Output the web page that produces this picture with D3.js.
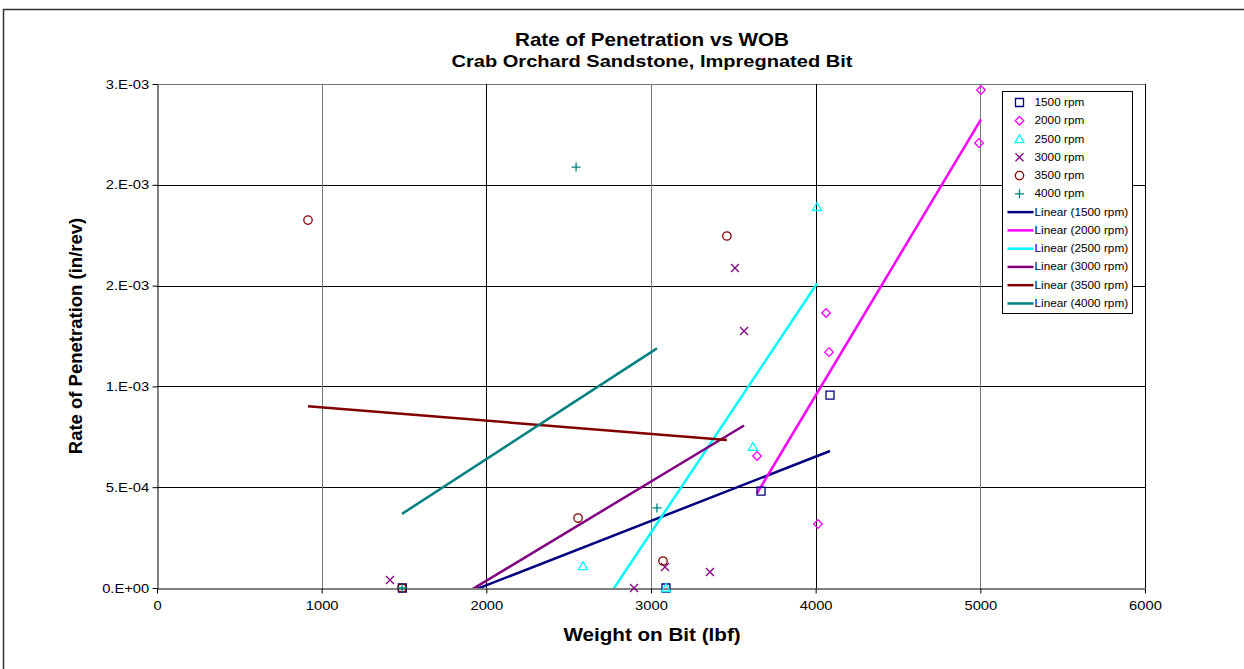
<!DOCTYPE html>
<html>
<head>
<meta charset="utf-8">
<script src="https://cdn.jsdelivr.net/npm/d3@7"></script>
<style>
  body { margin: 0; background: #fff; }
  svg { font-family: "Liberation Sans", Arial, sans-serif; }
</style>
</head>
<body>
<svg id="chart" width="1244" height="669"></svg>
<script>
// series (x = WOB lbf, y = in/rev)
const seriesNames = ["1500 rpm", "2000 rpm", "2500 rpm", "3000 rpm", "3500 rpm", "4000 rpm"];
const wob1500 = [1490, 3091, 3668, 4087];
const rop1500 = [0, 0, 0.000481, 0.000957];
const wob2000 = [5004, 4992, 4063, 4081, 3644, 4014];
const rop2000 = [0.00247, 0.002207, 0.001364, 0.00117, 0.000655, 0.000317];
const wob2500 = [2587, 3091, 3619, 4008];
const rop2500 = [0.000109, 0, 0.0007, 0.00189];
const wob3000 = [1415, 2897, 3085, 3358, 3510, 3565];
const rop3000 = [0.00004, 0, 0.000104, 0.000079, 0.001587, 0.001275];
const wob3500 = [917, 1488, 2557, 3073, 3461];
const rop3500 = [0.001825, 0, 0.000347, 0.000134, 0.001746];
const wob4000 = [2545, 3036, 1488];
const rop4000 = [0.002088, 0.000397, 0];

const xTicks = [0, 1000, 2000, 3000, 4000, 5000, 6000];
const yTicks = [0, 0.0005, 0.001, 0.0015, 0.002, 0.0025];
const yTickLabels = ["0.E+00", "5.E-04", "1.E-03", "2.E-03", "2.E-03", "3.E-03"];

const colors = ["#000080", "#ff00ff", "#00ffff", "#800080", "#800000", "#008080"];

const wobs = [wob1500, wob2000, wob2500, wob3000, wob3500, wob4000];
const rops = [rop1500, rop2000, rop2500, rop3000, rop3500, rop4000];
const series = seriesNames.map((name, i) => ({
  name, color: colors[i], shape: i,
  pts: wobs[i].map((x, j) => ({ x, y: rops[i][j] }))
}));

const svg = d3.select("#chart");
const plot = { left: 157, top: 84, right: 1145, bottom: 588 };
const SX = 1.18; // text in the picture is a bit wide

const x = d3.scaleLinear().domain([0, 6000]).range([plot.left, plot.right]);
const y = d3.scaleLinear().domain([0, 0.0025]).range([plot.bottom, plot.top]);

function label(px, py, str, size, bold, rot) {
  return svg.append("text")
    .attr("transform", `translate(${px},${py})` + (rot ? ` rotate(${rot})` : ` scale(${SX},1)`))
    .attr("text-anchor", "middle").attr("font-size", size)
    .attr("font-weight", bold ? "bold" : null).text(str);
}

// outer chart border (only top/left visible)
svg.append("path")
  .attr("d", "M3.5,669 L3.5,9.5 L1244,9.5")
  .attr("fill", "none").attr("stroke", "#333").attr("stroke-width", 1.5);

// titles
label(652, 46, "Rate of Penetration vs WOB", 17.5, true);
label(652, 67, "Crab Orchard Sandstone, Impregnated Bit", 17, true);

// grid
const grid = svg.append("g");
grid.selectAll(".hg").data(yTicks.slice(1)).enter().append("line")
  .attr("x1", plot.left).attr("x2", plot.right)
  .attr("y1", d => Math.round(y(d)) + 0.5).attr("y2", d => Math.round(y(d)) + 0.5)
  .attr("stroke", (d, i) => i === yTicks.length - 2 ? "#777" : "#000");
grid.selectAll(".vg").data(xTicks.slice(1)).enter().append("line")
  .attr("y1", plot.top).attr("y2", plot.bottom)
  .attr("x1", d => Math.round(x(d)) + 0.5).attr("x2", d => Math.round(x(d)) + 0.5)
  .attr("stroke", d => (d / 1000) % 2 === 1 ? "#777" : "#000");

// axes
const xAxis = svg.append("g").attr("transform", `translate(0,${plot.bottom + 0.5})`)
  .call(d3.axisBottom(x).tickValues(xTicks).tickSize(5).tickSizeOuter(0).tickFormat(d3.format("d")));
const yAxis = svg.append("g").attr("transform", `translate(${plot.left + 0.5},0)`)
  .call(d3.axisLeft(y).tickValues(yTicks).tickSize(5).tickSizeOuter(0).tickFormat((d, i) => yTickLabels[i]));
[xAxis, yAxis].forEach(a => {
  a.select(".domain").attr("stroke", "#000");
  a.selectAll(".tick line").attr("stroke", "#000");
  a.selectAll(".tick text").attr("font-size", 12.5).attr("fill", "#000")
    .attr("font-family", "Liberation Sans, Arial, sans-serif")
    .attr("transform", `scale(${SX},1)`);
});
xAxis.selectAll(".tick text").attr("y", 10).attr("dy", "0.9em");
yAxis.selectAll(".tick text").attr("x", -7);

label(652, 641, "Weight on Bit (lbf)", 17.5, true);
label(82, 336, "Rate of Penetration (in/rev)", 18.5, true, -90);

// clip for trend lines
svg.append("clipPath").attr("id", "plotclip").append("rect")
  .attr("x", plot.left).attr("y", plot.top)
  .attr("width", plot.right - plot.left).attr("height", plot.bottom - plot.top);

// least-squares trend line per series
function fit(pts) {
  const mx = d3.mean(pts, p => p.x), my = d3.mean(pts, p => p.y);
  const sxy = d3.sum(pts, p => (p.x - mx) * (p.y - my));
  const sxx = d3.sum(pts, p => (p.x - mx) * (p.x - mx));
  const b = sxy / sxx, a = my - b * mx;
  const [x0, x1] = d3.extent(pts, p => p.x);
  return [{ x: x0, y: a + b * x0 }, { x: x1, y: a + b * x1 }];
}

const line = d3.line().x(d => x(d.x)).y(d => y(d.y));
svg.append("g").attr("clip-path", "url(#plotclip)")
  .selectAll("path").data(series).enter().append("path")
  .attr("d", s => line(fit(s.pts)))
  .attr("fill", "none").attr("stroke", s => s.color).attr("stroke-width", 2.5);

// markers, drawn as Excel-like outline shapes
const shapePaths = [
  "M-4,-4H4V4H-4Z",                    // square
  "M0,-4.3L4.3,0L0,4.3L-4.3,0Z",       // diamond
  "M0,-4.3L4.5,3.5H-4.5Z",             // triangle
  "M-4,-4L4,4M-4,4L4,-4",              // x
  null,                                // circle
  "M-4.5,0H4.5M0,-4.5V4.5"             // plus
];
function marker(g, shape, color) {
  if (shape === 4) {
    g.append("circle").attr("r", 4.2)
      .attr("fill", "none").attr("stroke", color).attr("stroke-width", 1.3);
  } else {
    g.append("path").attr("d", shapePaths[shape])
      .attr("fill", "none").attr("stroke", color).attr("stroke-width", 1.3);
  }
}

series.forEach(s => {
  s.pts.forEach(p => {
    const g = svg.append("g").attr("transform", `translate(${x(p.x)},${y(p.y)})`);
    marker(g, s.shape, s.color);
  });
});

// legend
const lg = svg.append("g").attr("transform", "translate(1002.5,91.5)");
lg.append("rect").attr("width", 130).attr("height", 222)
  .attr("fill", "#fff").attr("stroke", "#000").attr("stroke-width", 1);
const rowH = 18.27;
function legendText(px, py, str) {
  lg.append("text").attr("transform", `translate(${px},${py}) scale(${SX},1)`)
    .attr("font-size", 10).text(str);
}
series.forEach((s, i) => {
  const yy = 11 + i * rowH;
  const g = lg.append("g").attr("transform", `translate(17,${yy})`);
  marker(g, s.shape, s.color);
  legendText(32, yy + 3.5, s.name);
});
series.forEach((s, i) => {
  const yy = 11 + (i + 6) * rowH;
  lg.append("line").attr("x1", 5).attr("x2", 31).attr("y1", yy).attr("y2", yy)
    .attr("stroke", s.color).attr("stroke-width", 2.5);
  legendText(32, yy + 3.5, `Linear (${s.name})`);
});
</script>
</body>
</html>
